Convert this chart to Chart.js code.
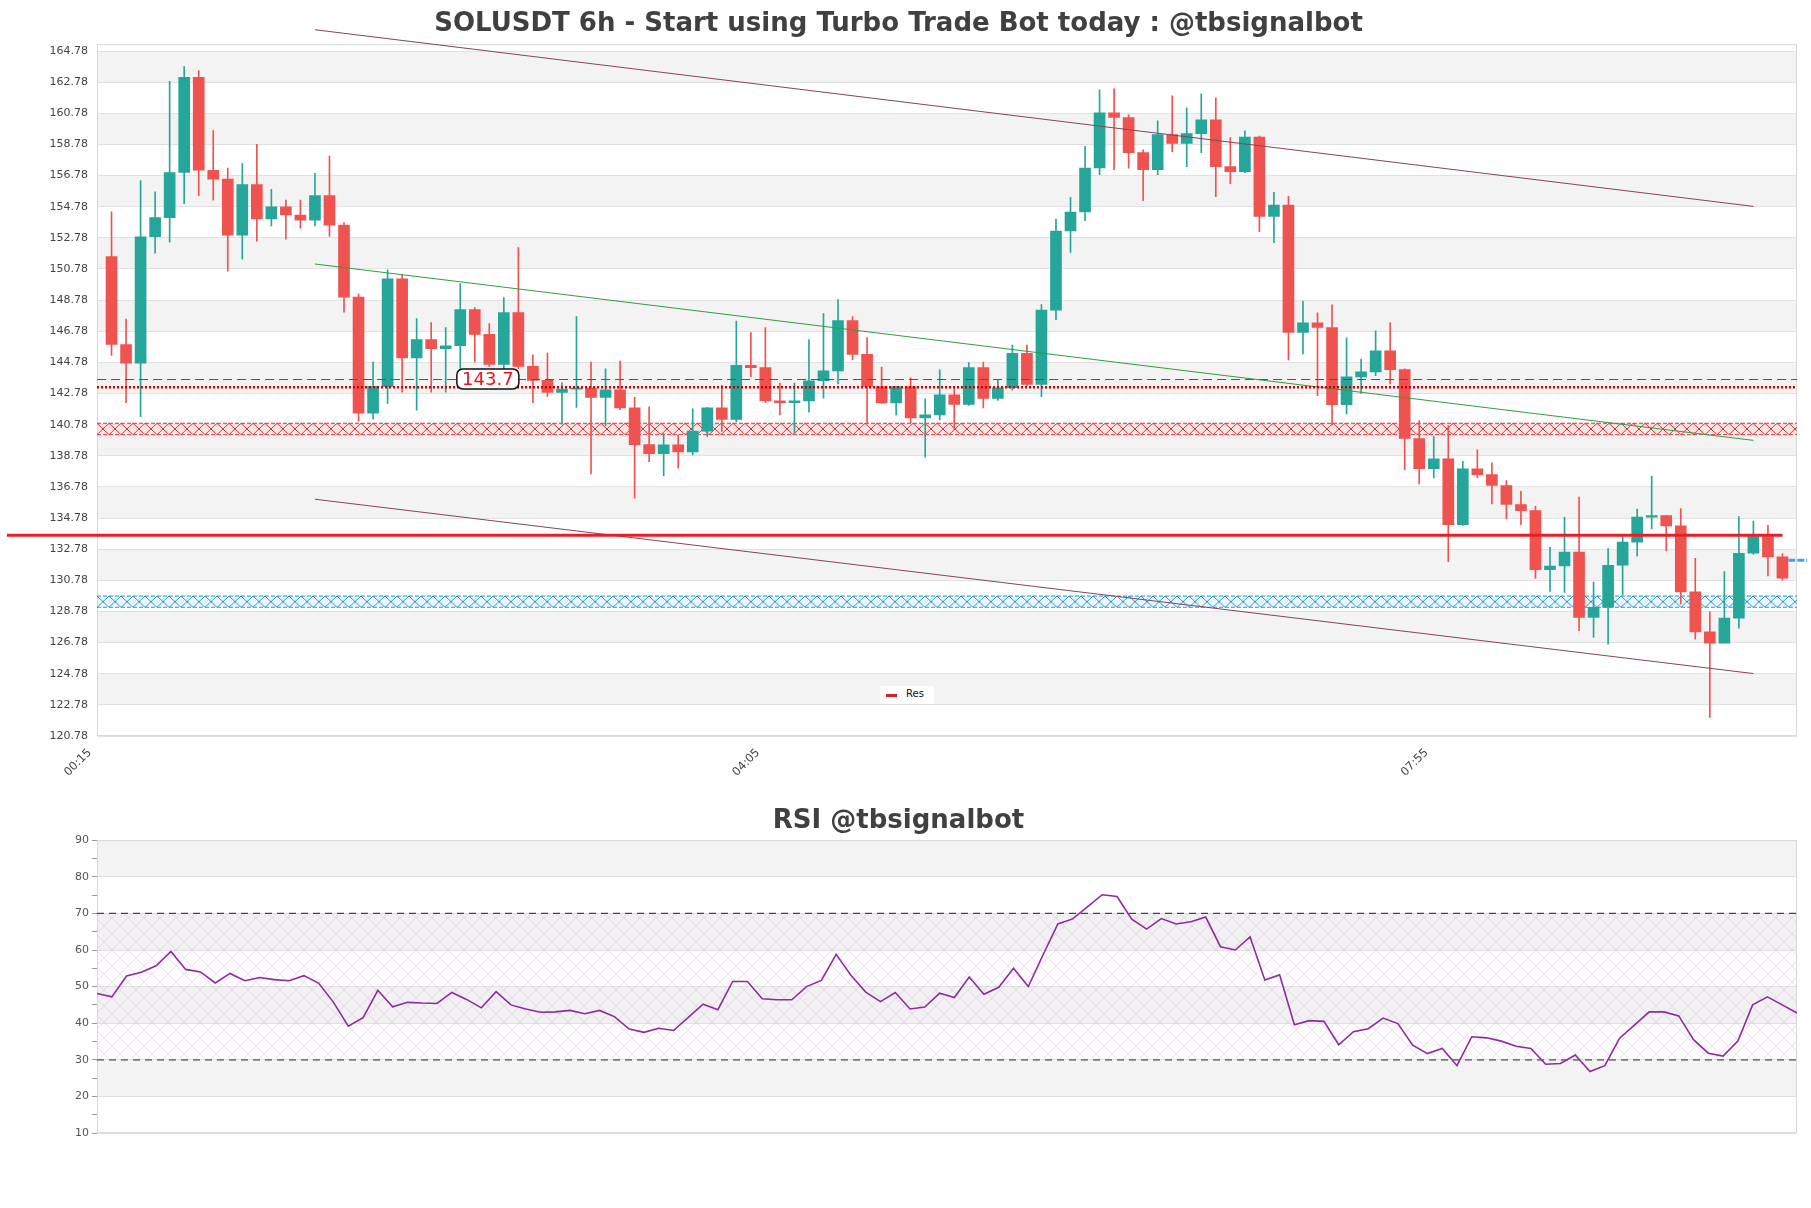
<!DOCTYPE html>
<html>
<head>
<meta charset="utf-8">
<title>SOLUSDT 6h</title>
<script src="https://cdn.jsdelivr.net/npm/chart.js@4.4.1/dist/chart.umd.min.js"></script>
<style>
  body { margin: 0; background: #fff; width: 1811px; height: 1208px; position: relative; overflow: hidden; font-family: "DejaVu Sans", sans-serif; }
  #mainChart { position: absolute; left: 0; top: 0; }
  #rsiChart { position: absolute; left: 0; top: 790px; }
  #legend { position: absolute; left: 880px; top: 686px; width: 54px; height: 18px; background: #fff; font-size: 10px; color: #111; }
  #legend .swatch { position: absolute; left: 6px; top: 8px; width: 11px; height: 3px; background: #d3202a; }
  #legend .txt { position: absolute; left: 26px; top: 2px; }
</style>
</head>
<body>
<canvas id="mainChart" width="1811" height="790"></canvas>
<canvas id="rsiChart" width="1811" height="418"></canvas>
<div id="legend"><span class="swatch"></span><span class="txt">Res</span></div>
<script>
// candles, 5 min each
const opens = [151.58, 145.93, 144.73, 152.85, 154.08, 156.98, 163.09, 157.12, 156.55, 152.96,
  156.20, 154.00, 154.77, 154.25, 153.91, 155.49, 153.60, 148.97, 141.52, 143.24,
  150.15, 145.06, 146.24, 145.66, 145.85, 148.17, 146.58, 144.65, 147.98, 144.52,
  143.62, 142.85, 143.06, 143.13, 142.53, 143.02, 141.86, 139.50, 138.92, 139.48,
  139.03, 140.36, 141.86, 141.11, 144.59, 144.44, 142.31, 142.20, 142.31, 143.60,
  144.24, 147.46, 145.29, 143.23, 142.18, 143.23, 141.22, 141.41, 142.70, 142.08,
  144.44, 142.46, 143.15, 145.37, 143.36, 148.14, 153.22, 154.44, 157.27, 160.81,
  160.51, 158.26, 157.16, 159.41, 158.84, 159.48, 160.36, 157.36, 157.03, 159.26,
  154.16, 154.89, 146.70, 147.32, 147.02, 142.07, 143.85, 144.17, 145.52, 144.32,
  139.89, 137.96, 138.58, 134.36, 137.94, 137.57, 136.87, 135.65, 135.26, 131.47,
  131.70, 132.60, 128.39, 129.05, 131.75, 133.23, 134.84, 134.94, 134.28, 130.04,
  127.47, 126.74, 128.35, 132.52, 133.59, 132.29];
const highs = [154.45, 147.57, 156.46, 155.74, 162.83, 163.78, 163.52, 159.67, 157.26, 157.55,
  158.78, 155.89, 155.20, 155.20, 156.92, 158.04, 153.76, 149.17, 144.81, 150.72,
  150.42, 147.59, 147.33, 147.01, 149.84, 148.30, 147.27, 148.94, 152.16, 145.27,
  145.38, 143.47, 147.72, 144.80, 144.37, 144.87, 142.55, 141.93, 140.21, 140.12,
  141.80, 141.90, 143.30, 147.44, 146.69, 147.01, 143.45, 143.45, 146.24, 147.91,
  148.81, 147.72, 146.37, 144.48, 143.25, 143.79, 142.44, 144.31, 143.08, 144.76,
  144.80, 143.66, 145.89, 145.89, 148.50, 153.99, 155.38, 158.66, 162.29, 162.35,
  160.68, 158.43, 160.29, 161.90, 161.13, 162.03, 161.77, 159.22, 159.65, 159.31,
  155.71, 155.45, 148.70, 147.96, 148.47, 146.35, 145.00, 146.80, 147.32, 144.36,
  141.04, 140.01, 140.72, 138.43, 139.16, 138.32, 137.19, 136.50, 135.54, 132.90,
  134.83, 136.12, 130.66, 132.82, 133.59, 135.35, 137.47, 134.96, 135.39, 132.20,
  128.75, 131.35, 134.88, 134.58, 134.32, 132.50];
const lows = [145.22, 142.20, 141.29, 151.79, 152.50, 154.97, 155.49, 155.20, 150.64, 151.41,
  152.56, 153.54, 152.70, 153.40, 153.54, 152.88, 148.00, 141.00, 141.14, 142.15,
  142.87, 141.71, 142.87, 142.87, 144.30, 144.80, 144.50, 144.37, 144.37, 142.20,
  142.59, 140.81, 141.88, 137.61, 140.72, 141.75, 136.05, 138.41, 137.51, 137.98,
  138.84, 140.01, 140.34, 140.98, 143.84, 142.20, 141.41, 140.23, 141.58, 142.48,
  143.39, 144.95, 140.90, 142.14, 141.41, 140.90, 138.69, 141.09, 140.51, 142.01,
  141.86, 142.33, 142.99, 143.30, 142.57, 147.52, 151.85, 153.88, 156.84, 157.16,
  157.25, 155.17, 156.84, 158.32, 157.36, 158.26, 155.43, 156.26, 156.97, 153.18,
  152.47, 144.94, 145.32, 142.65, 140.76, 141.47, 142.78, 143.93, 143.40, 137.89,
  136.97, 137.36, 131.98, 134.30, 137.36, 135.69, 134.72, 134.36, 130.91, 130.06,
  130.01, 127.55, 127.12, 126.68, 129.85, 132.35, 134.09, 132.67, 129.25, 127.00,
  121.97, 126.74, 127.71, 132.45, 131.07, 130.79];
const closes = [145.93, 144.73, 152.85, 154.08, 156.98, 163.09, 157.12, 156.55, 152.96, 156.20,
  154.00, 154.77, 154.25, 153.91, 155.49, 153.60, 148.97, 141.52, 143.24, 150.15,
  145.06, 146.24, 145.66, 145.85, 148.17, 146.58, 144.65, 147.98, 144.52, 143.62,
  142.85, 143.06, 143.13, 142.53, 143.02, 141.86, 139.50, 138.92, 139.48, 139.03,
  140.36, 141.86, 141.11, 144.59, 144.44, 142.31, 142.20, 142.31, 143.60, 144.24,
  147.46, 145.29, 143.23, 142.18, 143.23, 141.22, 141.41, 142.70, 142.08, 144.44,
  142.46, 143.15, 145.37, 143.36, 148.14, 153.22, 154.44, 157.27, 160.81, 160.51,
  158.26, 157.16, 159.41, 158.84, 159.48, 160.36, 157.36, 157.03, 159.26, 154.16,
  154.89, 146.70, 147.32, 147.02, 142.07, 143.85, 144.17, 145.52, 144.32, 139.89,
  137.96, 138.58, 134.36, 137.94, 137.57, 136.87, 135.65, 135.26, 131.47, 131.70,
  132.60, 128.39, 129.05, 131.75, 133.23, 134.84, 134.94, 134.28, 130.04, 127.47,
  126.74, 128.35, 132.52, 133.59, 132.29, 130.92];

// RSI per candle
const rsiValues = [48.1, 47.2, 52.9, 53.9, 55.7, 59.6, 54.7, 54.0, 51.0, 53.6,
  51.6, 52.5, 51.9, 51.6, 53.0, 50.9, 45.7, 39.2, 41.5, 49.0,
  44.5, 45.7, 45.5, 45.4, 48.4, 46.5, 44.2, 48.6, 45.0, 43.9,
  43.0, 43.1, 43.5, 42.6, 43.5, 41.8, 38.4, 37.5, 38.6, 38.0,
  41.6, 45.2, 43.7, 51.4, 51.4, 46.7, 46.4, 46.4, 50.0, 51.7,
  58.8, 53.1, 48.5, 45.9, 48.4, 43.9, 44.4, 48.2, 47.0, 52.6,
  47.9, 49.8, 55.0, 50.0, 58.7, 67.1, 68.5, 71.8, 75.1, 74.6,
  68.4, 65.7, 68.6, 67.1, 67.7, 69.0, 60.9, 60.0, 63.6, 51.8,
  53.2, 39.6, 40.7, 40.5, 34.1, 37.7, 38.5, 41.4, 39.9, 34.0,
  31.7, 33.1, 28.4, 36.3, 36.0, 35.1, 33.7, 33.1, 28.8, 29.0,
  31.3, 26.8, 28.4, 35.9, 39.5, 43.1, 43.1, 42.0, 35.5, 31.8,
  31.0, 35.1, 45.0, 47.2, 45.0, 42.8];

// axis ticks
const priceTicks = [120.78, 122.78, 124.78, 126.78, 128.78, 130.78, 132.78, 134.78, 136.78, 138.78,
  140.78, 142.78, 144.78, 146.78, 148.78, 150.78, 152.78, 154.78, 156.78, 158.78,
  160.78, 162.78, 164.78];
const timeTickPos = [-1.5, 44.5, 90.5];
const timeTickLabels = ["00:15", "04:05", "07:55"];
const rsiTicks = [10, 15, 20, 25, 30, 35, 40, 45, 50, 55, 60, 65, 70, 75, 80, 85, 90];
const rsiBandEdges = [10, 20, 30, 40, 50, 60, 70, 80, 90];

// levels and lines
const resLevel = 133.68;
const resFrom = -7.2, resTo = 115;
const dashLevel = 143.68;
const dotLevel = 143.18;
const labelText = "143.7";
const labelAt = [25.9, 143.72];
const redZone = [140.87, 140.14];
const blueZone = [129.77, 129.05];
const upperTrend = [[14, 166.15], [113, 154.8]];
const lowerTrend = [[14, 135.99], [113, 124.79]];
const greenTrend = [[14, 151.1], [113, 139.77]];
const lastMark = [[115.4, 132.07], [116.7, 132.07]];
const rsiUpper = 70, rsiLower = 30;

const upColor = "#26a69a";
const downColor = "#ef5350";
const xMin = -1, xMax = 116;

const candleColors = opens.map((o, i) => (closes[i] >= o ? upColor : downColor));
const toPts = (arr) => arr.map((p) => ({ x: p[0], y: p[1] }));
const flat = (y, x0, x1) => [{ x: x0, y: y }, { x: x1, y: y }];

// hatch tiles for the zones
function makeTile(size, bg, line, lw) {
  const c = document.createElement("canvas");
  c.width = size;
  c.height = size;
  const g = c.getContext("2d");
  g.fillStyle = bg;
  g.fillRect(0, 0, size, size);
  g.strokeStyle = line;
  g.lineWidth = lw;
  g.beginPath();
  g.moveTo(0, 0); g.lineTo(size, size);
  g.moveTo(size, 0); g.lineTo(0, size);
  g.stroke();
  return c;
}
const mainCtx = document.getElementById("mainChart").getContext("2d");
const rsiCtx = document.getElementById("rsiChart").getContext("2d");
const redHatch = mainCtx.createPattern(makeTile(12, "rgba(255,200,200,0.3)", "#e8262c", 1), "repeat");
const blueHatch = mainCtx.createPattern(makeTile(12, "rgba(190,225,245,0.3)", "#1f93d0", 1), "repeat");
const rsiHatch = rsiCtx.createPattern(makeTile(16, "rgba(240,225,245,0.15)", "rgba(160,140,170,0.28)", 0.8), "repeat");

// alternating grey bands + frame
const bandsPlugin = {
  id: "bands",
  beforeDraw(chart, args, opts) {
    const { ctx, chartArea: a } = chart;
    const y = chart.scales.y;
    ctx.save();
    ctx.fillStyle = "#fff";
    ctx.fillRect(0, 0, chart.width, chart.height);
    ctx.fillStyle = "#f3f3f3";
    for (let k = 0; k < opts.edges.length - 1; k++) {
      if (k % 2 !== 1) continue;
      const top = y.getPixelForValue(opts.edges[k + 1]);
      const bot = y.getPixelForValue(opts.edges[k]);
      ctx.fillRect(a.left, top, a.right - a.left, bot - top);
    }
    ctx.restore();
  },
  beforeDatasetsDraw(chart) {
    const { ctx, chartArea: a } = chart;
    ctx.save();
    ctx.strokeStyle = "#d9d9d9";
    ctx.lineWidth = 1;
    ctx.strokeRect(a.left + 0.5, a.top + 0.5, a.right - a.left - 1, a.bottom - a.top - 1);
    ctx.restore();
  },
};

// line up the hatch crosses with the zone edges
const zonePlugin = {
  id: "zones",
  beforeDatasetsDraw(chart) {
    const y = chart.scales.y;
    const left = chart.chartArea.left;
    [[redHatch, redZone], [blueHatch, blueZone]].forEach(([pat, z]) => {
      const y0 = y.getPixelForValue(z[0]);
      const y1 = y.getPixelForValue(z[1]);
      pat.setTransform(new DOMMatrix([1, 0, 0, (y1 - y0) / 12, left, y0]));
    });
  },
};

// boxed price label
const priceLabelPlugin = {
  id: "priceLabel",
  afterDatasetsDraw(chart) {
    const { ctx } = chart;
    const px = chart.scales.x.getPixelForValue(labelAt[0]);
    const py = chart.scales.y.getPixelForValue(labelAt[1]);
    const w = 62, h = 20;
    ctx.save();
    ctx.beginPath();
    ctx.roundRect(px - w / 2, py - h / 2, w, h, 6);
    ctx.fillStyle = "#fff";
    ctx.fill();
    ctx.lineWidth = 1.5;
    ctx.strokeStyle = "#111";
    ctx.stroke();
    ctx.fillStyle = "#e8141c";
    ctx.font = '18px "DejaVu Sans"';
    ctx.textAlign = "center";
    ctx.textBaseline = "middle";
    ctx.fillText(labelText, px, py + 1);
    ctx.restore();
  },
};

const lineDs = (label, data, color, width, dash, order) => ({
  type: "line", label: label, data: data, borderColor: color, borderWidth: width,
  borderDash: dash, pointRadius: 0, fill: false, tension: 0, clip: false, order: order,
});

new Chart(mainCtx, {
  type: "bar",
  data: {
    datasets: [
      lineDs("Res", flat(resLevel, resFrom, resTo), "#ec1c24", 3, [], 0),
      lineDs("dash", flat(dashLevel, xMin, xMax), "#d42020", 1.2, [9, 5], 1),
      lineDs("dot", flat(dotLevel, xMin, xMax), "#d00000", 2.5, [2, 2], 1),
      lineDs("upper", toPts(upperTrend), "#83455c", 1, [], 1),
      lineDs("lower", toPts(lowerTrend), "#83455c", 1, [], 1),
      lineDs("green", toPts(greenTrend), "#2e9e44", 1, [], 1),
      lineDs("last", toPts(lastMark), "#4a9fe0", 3, [7, 2], 1),
      {
        label: "body", data: opens.map((o, i) => ({ x: i, y: [o, closes[i]] })),
        backgroundColor: candleColors, barThickness: 11, grouped: false, borderWidth: 0, order: 3,
      },
      {
        label: "wick", data: opens.map((o, i) => ({ x: i, y: [lows[i], highs[i]] })),
        backgroundColor: candleColors, barThickness: 1, grouped: false, borderWidth: 0, order: 4,
      },
      { ...lineDs("redTop", flat(redZone[0], xMin, xMax), "#e8262c", 1, [4, 2], 6), fill: "+1", backgroundColor: redHatch, clip: 0 },
      lineDs("redBot", flat(redZone[1], xMin, xMax), "#e8262c", 1, [4, 2], 6),
      { ...lineDs("blueTop", flat(blueZone[0], xMin, xMax), "#1f93d0", 1, [4, 2], 6), fill: "+1", backgroundColor: blueHatch, clip: 0 },
      lineDs("blueBot", flat(blueZone[1], xMin, xMax), "#1f93d0", 1, [4, 2], 6),
    ],
  },
  options: {
    responsive: false,
    animation: false,
    devicePixelRatio: 1,
    layout: { padding: { left: 0, right: 14, top: 0, bottom: 0 } },
    plugins: {
      legend: { display: false },
      tooltip: { enabled: false },
      title: {
        display: true,
        text: "SOLUSDT 6h - Start using Turbo Trade Bot today : @tbsignalbot",
        font: { family: "DejaVu Sans", size: 26, weight: "bold" },
        color: "#404040",
        padding: { top: 9, bottom: 4 },
      },
      bands: { edges: priceTicks },
    },
    scales: {
      x: {
        type: "linear", min: xMin, max: xMax, offset: false,
        grid: { display: false, offset: false },
        border: { display: false },
        afterBuildTicks: (s) => { s.ticks = timeTickPos.map((v) => ({ value: v })); },
        afterFit: (s) => { s.height = 54; },
        ticks: {
          autoSkip: false, minRotation: 45, maxRotation: 45, padding: 2,
          font: { family: "DejaVu Sans", size: 11.5 }, color: "#444",
          callback: (v, i) => timeTickLabels[i],
        },
      },
      y: {
        type: "linear", min: 120.78, max: 165.22,
        grid: { color: "#e2e2e2", drawTicks: false },
        border: { display: false },
        afterBuildTicks: (s) => { s.ticks = priceTicks.map((v) => ({ value: v })); },
        afterFit: (s) => { s.width = 97; },
        ticks: {
          padding: 9, font: { family: "DejaVu Sans", size: 11 }, color: "#444",
          callback: (v) => v.toFixed(2),
        },
      },
    },
  },
  plugins: [bandsPlugin, zonePlugin, priceLabelPlugin],
});

new Chart(rsiCtx, {
  type: "line",
  data: {
    datasets: [
      {
        label: "RSI", data: rsiValues.map((v, i) => ({ x: i, y: v })),
        borderColor: "#8e2c9e", borderWidth: 1.6, pointRadius: 0, tension: 0, fill: false, order: 0,
      },
      {
        label: "70", data: flat(rsiUpper, 0, rsiValues.length - 1),
        borderColor: "#444", borderWidth: 1.2, borderDash: [7, 5], pointRadius: 0,
        fill: "+1", backgroundColor: rsiHatch, order: 1,
      },
      {
        label: "30", data: flat(rsiLower, 0, rsiValues.length - 1),
        borderColor: "#444", borderWidth: 1.2, borderDash: [7, 5], pointRadius: 0, fill: false, order: 1,
      },
    ],
  },
  options: {
    responsive: false,
    animation: false,
    devicePixelRatio: 1,
    layout: { padding: { left: 0, right: 14, top: 0, bottom: 75 } },
    plugins: {
      legend: { display: false },
      tooltip: { enabled: false },
      title: {
        display: true,
        text: "RSI @tbsignalbot",
        font: { family: "DejaVu Sans", size: 26, weight: "bold" },
        color: "#404040",
        padding: { top: 16, bottom: 3 },
      },
      bands: { edges: rsiBandEdges },
    },
    scales: {
      x: { type: "linear", min: 0, max: rsiValues.length - 1, display: false },
      y: {
        type: "linear", min: 10, max: 90,
        border: { display: false },
        grid: {
          color: (c) => (c.tick && c.tick.value % 10 === 0 ? "#e0e0e0" : "rgba(0,0,0,0)"),
          tickColor: "#999", tickLength: 5,
        },
        afterBuildTicks: (s) => { s.ticks = rsiTicks.map((v) => ({ value: v })); },
        afterFit: (s) => { s.width = 97; },
        ticks: {
          padding: 3, font: { family: "DejaVu Sans", size: 11 }, color: "#555",
          callback: (v) => (v % 10 === 0 ? String(v) : ""),
        },
      },
    },
  },
  plugins: [bandsPlugin],
});
</script>
</body>
</html>
